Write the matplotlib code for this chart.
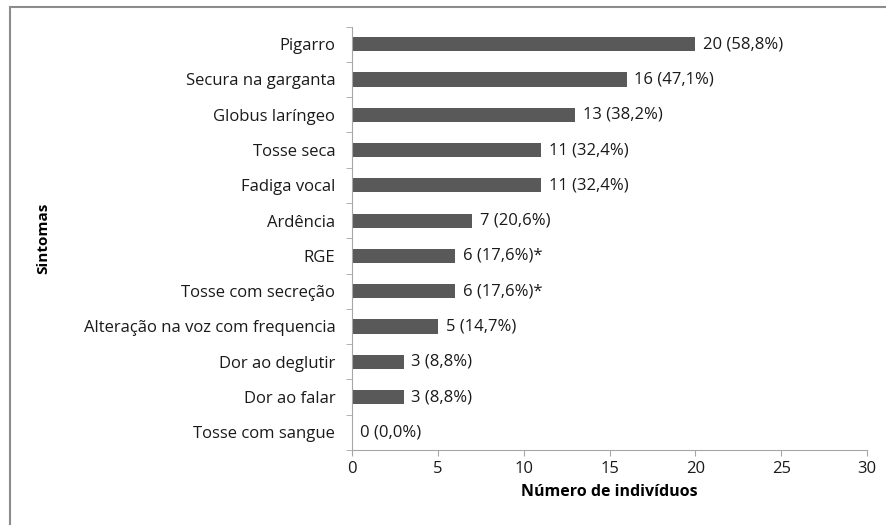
import matplotlib.pyplot as plt
from matplotlib.patches import Rectangle

# Symptoms, top to bottom as shown in the chart.
sintomas = ['Pigarro', 'Secura na garganta', 'Globus laríngeo', 'Tosse seca',
            'Fadiga vocal', 'Ardência', 'RGE', 'Tosse com secreção',
            'Alteração na voz com frequencia', 'Dor ao deglutir',
            'Dor ao falar', 'Tosse com sangue']
individuos = [20, 16, 13, 11, 11, 7, 6, 6, 5, 3, 3, 0]
percentuais = ['58,8', '47,1', '38,2', '32,4', '32,4', '20,6', '17,6', '17,6',
               '14,7', '8,8', '8,8', '0,0']
marcas = ['', '', '', '', '', '', '*', '*', '', '', '', '']

plt.rcParams['font.family'] = ['Open Sans', 'DejaVu Sans']

fig = plt.figure(figsize=(8.86, 5.25), dpi=100)
ax = fig.add_axes([0.3973, 0.1429, 0.5813, 0.8066])

# Outer frame of the original chart (only top and left edges are visible).
fig.patches.append(Rectangle((10 / 886, -0.1), 1.2, 1 - 7 / 525 + 0.1,
                             transform=fig.transFigure, fill=False,
                             edgecolor='#8c8c8c', linewidth=1.5))

pos = list(range(len(sintomas)))
ax.barh(pos, individuos, height=0.4, color='#595959')
ax.set_ylim(len(sintomas) - 0.5, -0.5)
ax.set_xlim(0, 30)
ax.set_xticks(range(0, 31, 5))

# Value labels to the right of each bar.
for y, v, p, m in zip(pos, individuos, percentuais, marcas):
    ax.text(v + 0.45, y, f'{v} ({p}%){m}', va='center', ha='left',
            fontsize=12, color='#1a1a1a')

ax.set_yticks(pos)
ax.set_yticklabels(sintomas, fontsize=12, color='#1a1a1a')
ax.set_yticks([i - 0.5 for i in range(len(sintomas) + 1)], minor=True)
ax.tick_params(axis='y', which='major', length=0, pad=12)
ax.tick_params(axis='y', which='minor', length=4, color='#a6a6a6')
ax.tick_params(axis='x', length=4, color='#a6a6a6', labelsize=12,
               labelcolor='#1a1a1a', pad=4)

for side in ['top', 'right']:
    ax.spines[side].set_visible(False)
for side in ['left', 'bottom']:
    ax.spines[side].set_color('#a6a6a6')

ax.set_xlabel('Número de indivíduos', fontsize=11.5, fontweight='bold',
              labelpad=5)
ax.set_ylabel('Sintomas', fontsize=11, fontweight='bold')
ax.yaxis.set_label_coords(50 / 886, 1 - 238 / 525, transform=fig.transFigure)

fig.savefig('out.png', dpi=100)
